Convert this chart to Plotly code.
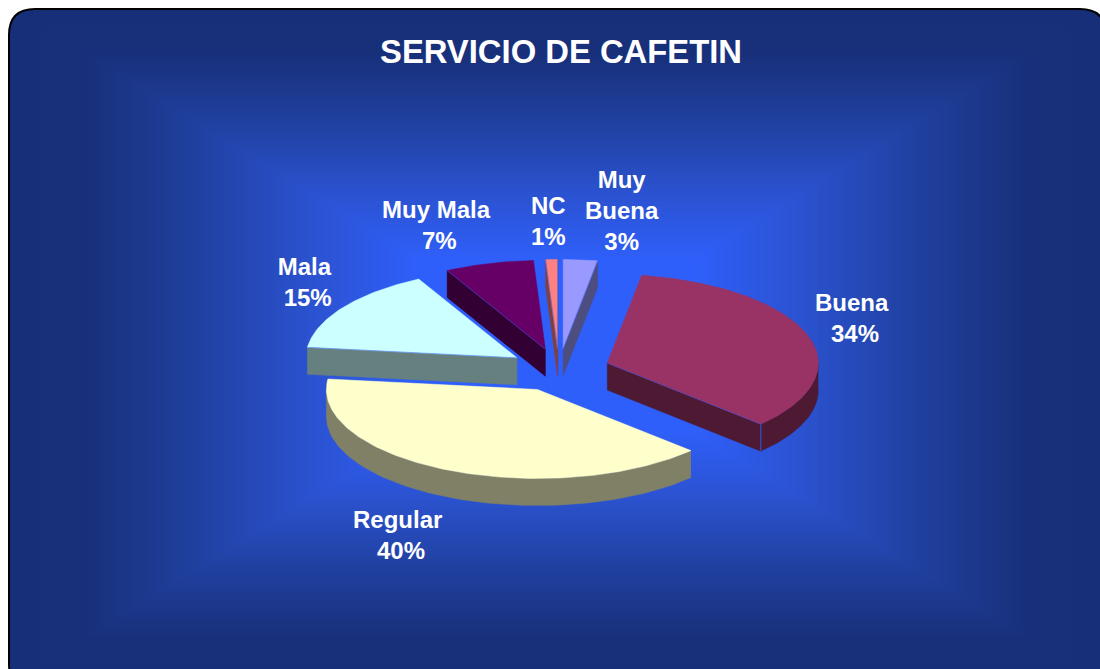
import numpy as np
import plotly.graph_objects as go

# ---- data ----
categories = ["Muy<br>Buena", "Buena", "Regular", "Mala", "Muy Mala", "NC"]
values = [2.6, 34.4, 39.8, 15.4, 6.8, 0.9]
title_text = "SERVICIO DE CAFETIN"

# ---- styles ----
top_colors = ["#9999FF", "#993366", "#FFFFCC", "#CCFFFF", "#660066", "#FF8080"]
side_colors = ["#4D4D80", "#4D1933", "#808066", "#668080", "#330033", "#804040"]
seam_color = "#3060F0"
label_xy = [(622, 210), (852, 318), (397, 535), (304, 282), (436, 225), (548, 221)]
pct_pad = [False, True, True, True, True, False]
W, H = 1100, 669
CX, CY = 559, 370
RX, RY = 211, 89
DEPTH = 27
EXPLODE = 51
draw_order = [5, 0, 4, 1, 3, 2]


def pt(theta, r=1.0):
    return np.sin(theta) * RX * r, -np.cos(theta) * RY * r


fig = go.Figure()

# background: rectangular path gradient
gx = np.linspace(0, W, 221)
gy = np.linspace(0, H, 135)
GX, GY = np.meshgrid(gx, gy)
d = np.maximum(np.abs(GX - 556) / 556, np.abs(GY - 345) / 345)
fig.add_trace(go.Heatmap(
    x=gx, y=gy, z=d, zmin=0, zmax=1, zsmooth="best", showscale=False, hoverinfo="skip",
    colorscale=[[0, "#2F5FFA"], [0.25, "#2F5FFA"], [0.44, "#2B52D0"], [0.65, "#20409F"],
                [0.85, "#18307A"], [1, "#172F78"]],
))

total = sum(values)
fractions = np.cumsum([0] + values) / total * 2 * np.pi


def poly(xs, ys, color):
    fig.add_trace(go.Scatter(x=xs, y=ys, mode="lines", fill="toself", fillcolor=color,
                             line=dict(color=color, width=0.5), hoverinfo="skip", showlegend=False))


def seam(xs, ys, width=1.0):
    fig.add_trace(go.Scatter(x=xs, y=ys, mode="lines", line=dict(color=seam_color, width=width),
                             opacity=0.8, hoverinfo="skip", showlegend=False))


for i in draw_order:
    t1, t2 = fractions[i], fractions[i + 1]
    mid = (t1 + t2) / 2
    ax = CX + np.sin(mid) * EXPLODE
    ay = CY - np.cos(mid) * EXPLODE * RY / RX
    thetas = np.linspace(t1, t2, max(3, int((t2 - t1) * 60)))
    arc_x = [ax + pt(t)[0] for t in thetas]
    arc_y = [ay + pt(t)[1] for t in thetas]
    faces = [t for t, visible in ((t1, np.sin(t1) < 0), (t2, np.sin(t2) > 0)) if visible]
    # radial faces turned towards the viewer
    for t in faces:
        ex, ey = pt(t)
        poly([ax, ax + ex, ax + ex, ax, ax],
             [ay, ay + ey, ay + ey + DEPTH, ay + DEPTH, ay], side_colors[i])
    # curved outer wall, front half only
    lo, hi = max(t1, np.pi / 2), min(t2, 3 * np.pi / 2)
    has_wall = hi > lo
    if has_wall:
        ts = np.linspace(lo, hi, 80)
        xs = [ax + pt(t)[0] for t in ts]
        ys = [ay + pt(t)[1] for t in ts]
        poly(xs + xs[::-1], ys + [y + DEPTH for y in ys[::-1]], side_colors[i])
    # top face
    poly([ax] + arc_x + [ax], [ay] + arc_y + [ay], top_colors[i])
    # thin seams where the faces meet
    for t in faces:
        ex, ey = pt(t)
        seam([ax, ax + ex], [ay, ay + ey], 0.6)
        if has_wall:
            seam([ax + ex, ax + ex], [ay + ey, ay + ey + DEPTH], 1.2)

# white outside the rounded frame, and the frame itself
L, T, R, B, C = 9, 9, 1106, 690, 26
rounded = (f"M {L},{T + C} Q {L},{T} {L + C},{T} L {R - C},{T} Q {R},{T} {R},{T + C} "
           f"L {R},{B - C} Q {R},{B} {R - C},{B} L {L + C},{B} Q {L},{B} {L},{B - C} Z")
shapes = [
    dict(type="path", layer="above", xref="x", yref="y", fillrule="evenodd", fillcolor="white",
         line=dict(width=0), path=f"M -5,-5 L {W + 20},-5 L {W + 20},{H + 40} L -5,{H + 40} Z " + rounded),
    dict(type="path", layer="above", xref="x", yref="y", line=dict(color="black", width=2), path=rounded),
]

annotations = [dict(x=561, y=51, text=f"<b>{title_text}</b>", showarrow=False, xref="x", yref="y",
                    font=dict(family="Liberation Sans", size=32.8, color="white"))]
for name, v, (lx, ly), pad in zip(categories, values, label_xy, pct_pad):
    lead = "&nbsp;" if pad else ""
    annotations.append(dict(x=lx, y=ly, xref="x", yref="y", showarrow=False, align="center",
                            text=f"<b>{name}<br>{lead}{round(v / total * 100)}%</b>",
                            font=dict(family="Liberation Sans", size=24, color="white")))

fig.update_layout(
    width=W, height=H, margin=dict(l=0, r=0, t=0, b=0), showlegend=False,
    paper_bgcolor="white", plot_bgcolor="white",
    xaxis=dict(range=[0, W], visible=False, fixedrange=True),
    yaxis=dict(range=[H, 0], visible=False, fixedrange=True),
    shapes=shapes, annotations=annotations,
)
fig.write_html("out.html", config={"displayModeBar": False},
               post_script="document.body.style.margin='0';document.body.style.overflow='hidden';")
